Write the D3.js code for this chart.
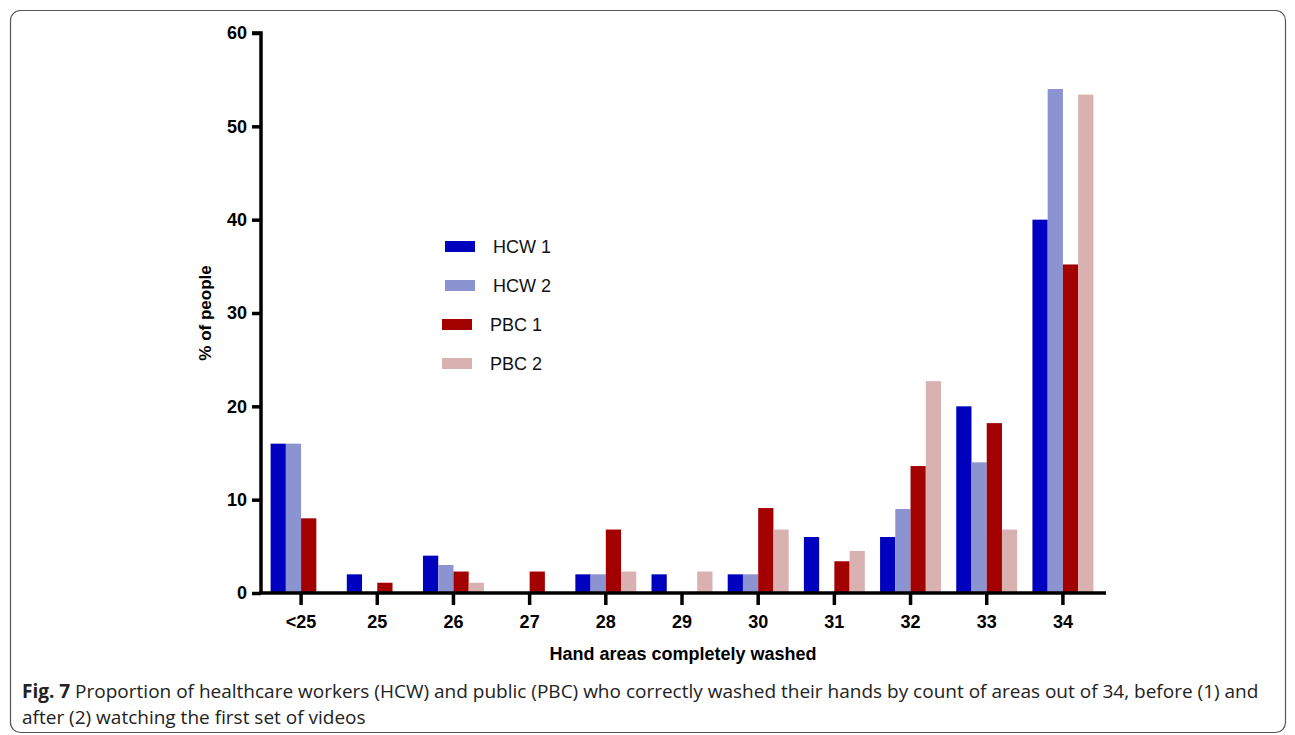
<!DOCTYPE html>
<html><head><meta charset="utf-8">
<script src="https://cdn.jsdelivr.net/npm/d3@7"></script>
<style>body{margin:0;background:#fff}svg{display:block}</style>
</head><body>
<script>
const categories = ["<25","25","26","27","28","29","30","31","32","33","34"];
const seriesNames = ["HCW 1","HCW 2","PBC 1","PBC 2"];
const hcw1 = [16, 2, 4, 0, 2, 2, 2, 6, 6, 20, 40];
const hcw2 = [16, 0, 3, 0, 2, 0, 2, 0, 9, 14, 54];
const pbc1 = [8, 1.1, 2.3, 2.3, 6.8, 0, 9.1, 3.4, 13.6, 18.2, 35.2];
const pbc2 = [0, 0, 1.1, 0, 2.3, 2.3, 6.8, 4.5, 22.7, 6.8, 53.4];
const yTicks = [0, 10, 20, 30, 40, 50, 60];
const colors = ["#0000bf", "#8b93d1", "#a30000", "#d9b1b1"];

const W = 1295, H = 735;
const svg = d3.select("body").append("svg").attr("width", W).attr("height", H);

svg.append("rect").attr("x", 10.5).attr("y", 10.5).attr("width", 1275).attr("height", 722)
  .attr("rx", 10).attr("fill", "none").attr("stroke", "#555").attr("stroke-width", 1.2);

const x = d3.scaleBand().domain(categories).range([263, 1101]).paddingInner(0.2).paddingOuter(0.1);
const xs = d3.scaleBand().domain(seriesNames).range([0, x.bandwidth()]);
const y = d3.scaleLinear().domain([0, 60]).range([593, 33]);

const data = [hcw1, hcw2, pbc1, pbc2];
const g = svg.append("g");
seriesNames.forEach((s, si) => {
  g.selectAll(null).data(categories.map((c, i) => ({c, v: data[si][i]})).filter(d => d.v > 0))
    .enter().append("rect")
    .attr("x", d => x(d.c) + xs(s))
    .attr("width", xs.bandwidth())
    .attr("y", d => y(d.v))
    .attr("height", d => y(0) - y(d.v))
    .attr("fill", colors[si]);
});

const font = "'Liberation Sans', Arial, sans-serif";
// y axis
const yAxis = svg.append("g").attr("transform", "translate(261,0)")
  .call(d3.axisLeft(y).tickValues(yTicks).tickSize(9).tickPadding(5).tickFormat(d3.format("d")));
yAxis.select(".domain").attr("stroke", "#000").attr("stroke-width", 3.5).attr("d", `M-9,${y(60)}H0V${y(0)}`);
yAxis.selectAll(".tick line").attr("stroke", "#000").attr("stroke-width", 3.5);
yAxis.selectAll(".tick text").attr("font-family", font).attr("font-weight", "bold").attr("font-size", 18).attr("fill", "#000");

// x axis
const xAxis = svg.append("g").attr("transform", "translate(0,593)")
  .call(d3.axisBottom(x).tickSize(12).tickPadding(10));
xAxis.select(".domain").attr("d", "M259.25,0H1106").attr("stroke", "#000").attr("stroke-width", 3.5);
xAxis.selectAll(".tick line").attr("stroke", "#000").attr("stroke-width", 3.5);
xAxis.selectAll(".tick text").attr("font-family", font).attr("font-weight", "bold").attr("font-size", 18).attr("fill", "#000");

svg.append("text").attr("transform", "translate(211,313) rotate(-90)").attr("text-anchor", "middle")
  .attr("font-family", font).attr("font-weight", "bold").attr("font-size", 17).text("% of people");
svg.append("text").attr("x", 683).attr("y", 660).attr("text-anchor", "middle")
  .attr("font-family", font).attr("font-weight", "bold").attr("font-size", 18).text("Hand areas completely washed");

// legend
const legX = [445, 445, 442, 442], legTX = [493, 493, 490, 490], legY = [247, 286, 325, 364];
seriesNames.forEach((s, i) => {
  svg.append("rect").attr("x", legX[i]).attr("y", legY[i] - 6).attr("width", 30).attr("height", 11).attr("fill", colors[i]);
  svg.append("text").attr("x", legTX[i]).attr("y", legY[i] + 6).attr("font-family", font)
    .attr("font-size", 18).attr("fill", "#111").text(s);
});

// caption
const capFont = "'Open Sans', sans-serif";
const cap = svg.append("text").attr("x", 22).attr("y", 698).attr("font-family", capFont).attr("font-size", 19).attr("fill", "#222");
cap.append("tspan").attr("font-weight", "bold").text("Fig. 7");
cap.append("tspan").text(" Proportion of healthcare workers (HCW) and public (PBC) who correctly washed their hands by count of areas out of 34, before (1) and");
svg.append("text").attr("x", 22).attr("y", 724).attr("font-family", capFont).attr("font-size", 19).attr("fill", "#222")
  .text("after (2) watching the first set of videos");
</script>
</body></html>
